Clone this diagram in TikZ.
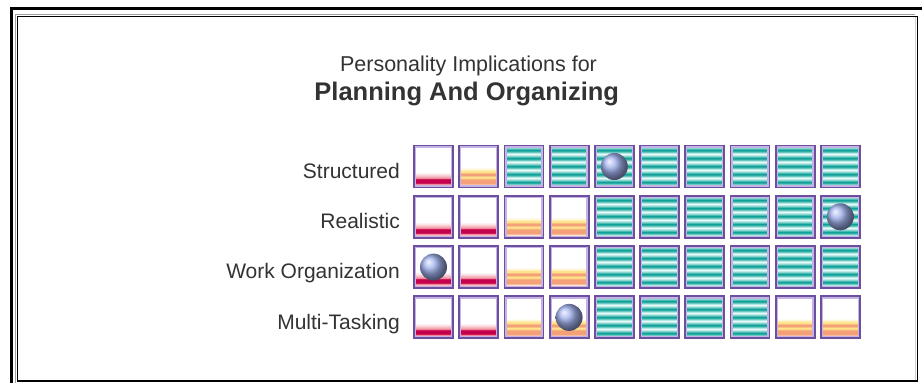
\documentclass[tikz,border=0pt]{standalone}
\usepackage{fontspec}
\setmainfont{Liberation Sans}
\usetikzlibrary{calc}
\definecolor{txt}{HTML}{333333}
\definecolor{boxpurple}{HTML}{6E4E9E}
\definecolor{lavender}{HTML}{C4B4E4}
\definecolor{crimson}{HTML}{C4004C}
\definecolor{pnk}{HTML}{F08898}
\definecolor{orA}{HTML}{F4A078}
\definecolor{yelA}{HTML}{FFE48C}
\definecolor{tlA}{HTML}{0FA098}
\definecolor{tlB}{HTML}{D8F8F4}
\definecolor{ballc}{HTML}{A0B0EC}
\definecolor{frgray}{HTML}{A0A0A0}
\def\typR{r}\def\typO{o}\def\typT{t}
\tikzset{
  cell/.style={minimum width=39pt, minimum height=42pt, inner sep=0pt, draw=boxpurple, line width=1.8pt},
  stripes/.style={path picture={
    \foreach \col [count=\i from 0] in {#1}{
      \fill[\col] ($(path picture bounding box.south west)+(0,1.6+\i)$) rectangle ++(40,1.05);
    }
    \draw[lavender, line width=1.3pt] ($(path picture bounding box.south west)+(1.5,1.5)$) rectangle ($(path picture bounding box.north east)+(-1.5,-1.5)$);
  }},
  redcell/.style={cell, stripes={pnk!60!white, pnk, crimson!80!pnk, crimson, crimson, crimson, crimson!80!pnk, pnk, pnk!75!white, pnk!55!white, pnk!38!white, pnk!22!white, pnk!10!white}},
  orangecell/.style={cell, stripes={orA!30!white, orA!70!white, orA, orA, orA, orA, orA!70!yelA, yelA!80!orA, yelA, yelA!50!orA, orA, orA, orA!60!yelA, yelA, yelA, yelA!60!white, yelA!35!white, yelA!15!white}},
  tealcell/.style={cell, stripes={tlA!20!tlB, tlA!55!tlB, tlA!85!tlB, tlA, tlA!70!tlB, tlA!40!tlB, tlA!15!tlB, tlB!50!white,
    tlA!20!tlB, tlA!55!tlB, tlA!85!tlB, tlA, tlA!70!tlB, tlA!40!tlB, tlA!15!tlB, tlB!50!white,
    tlA!20!tlB, tlA!55!tlB, tlA!85!tlB, tlA, tlA!70!tlB, tlA!40!tlB, tlA!15!tlB, tlB!50!white,
    tlA!20!tlB, tlA!55!tlB, tlA!85!tlB, tlA, tlA!70!tlB, tlA!40!tlB, tlA!15!tlB, tlB!50!white,
    tlA!20!tlB, tlA!55!tlB, tlA!85!tlB, tlA, tlA!70!tlB, tlA!40!tlB, tlA!15!tlB, tlB!50!white}},
  ballnode/.style={circle, minimum size=27pt, inner sep=0pt, shading=ball, ball color=ballc},
  rowlabel/.style={anchor=base east, text=txt, font=\fontsize{21}{24}\selectfont, inner sep=0pt},
  titlereg/.style={anchor=base, text=txt, font=\fontsize{21.5}{24}\selectfont, inner sep=0pt},
  titlebold/.style={anchor=base, text=txt, font=\fontsize{25.5}{28}\selectfont\bfseries, inner sep=0pt}
}
\begin{document}
\begin{tikzpicture}[x=1pt,y=1pt]
\useasboundingbox (0,0) rectangle (922,383);
\fill[white] (0,0) rectangle (922,383);
% frame
\draw[black, line width=3.5pt] (11.5,0) -- (11.5,376);
\draw[black, line width=3pt] (10,374.5) -- (922,374.5);
\draw[frgray, line width=1pt] (15.5,0) -- (15.5,368.5) -- (915,368.5);
\draw[black, line width=1.8pt] (17.5,2) rectangle (917.5,366.5);
\draw[frgray!50, line width=1pt] (915,2.5) -- (915,365.5);
% title
\node[titlereg] (t1) at (468.5,311) {Personality Implications for};
\node[titlebold] (t2) at (466.7,282.3) {Planning And Organizing};
% labels
\node[rowlabel] (l1) at (400,204.7) {Structured};
\node[rowlabel] (l2) at (400,154.4) {Realistic};
\node[rowlabel] (l3) at (400,104.1) {Work Organization};
\node[rowlabel] (l4) at (400,53.8) {Multi-Tasking};
% cells
\foreach \r/\types in {1/{r,o,t,t,t,t,t,t,t,t},2/{r,r,o,o,t,t,t,t,t,t},3/{r,r,o,o,t,t,t,t,t,t},4/{r,r,o,o,t,t,t,t,o,o}}{
  \foreach \ty [count=\c] in \types {
    \pgfmathsetmacro{\cx}{433.5+45.2*(\c-1)}
    \pgfmathsetmacro{\cy}{216.5-50.3*(\r-1)}
    \ifx\ty\typR \node[redcell] (c\r-\c) at (\cx,\cy) {};\fi
    \ifx\ty\typO \node[orangecell] (c\r-\c) at (\cx,\cy) {};\fi
    \ifx\ty\typT \node[tealcell] (c\r-\c) at (\cx,\cy) {};\fi
  }
}
% balls
\node[ballnode] (b1) at (c1-5) {};
\node[ballnode] (b2) at (c2-10) {};
\node[ballnode] (b3) at (c3-1) {};
\node[ballnode] (b4) at (c4-4) {};
\end{tikzpicture}
\end{document}
